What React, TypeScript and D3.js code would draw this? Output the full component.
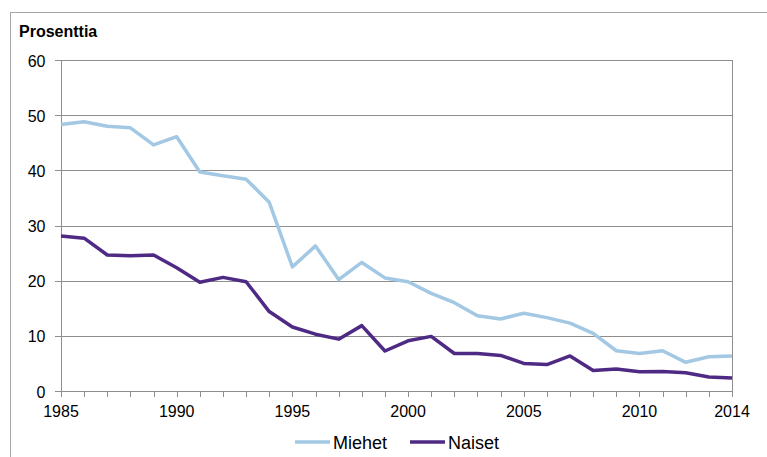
import { line, range, scaleLinear } from "d3";

const years = range(1985, 2015);

const miehet = [
  48.3, 48.8, 48.0, 47.7, 44.6, 46.1, 39.7, 39.0, 38.4, 34.2,
  22.5, 26.3, 20.2, 23.3, 20.5, 19.8, 17.7, 16.0, 13.65, 13.05,
  14.1, 13.3, 12.3, 10.45, 7.3, 6.8, 7.3, 5.2, 6.2, 6.35,
];

const naiset = [
  28.1, 27.7, 24.65, 24.5, 24.65, 22.35, 19.7, 20.6, 19.8, 14.4,
  11.6, 10.3, 9.4, 11.85, 7.25, 9.1, 9.9, 6.8, 6.8, 6.45,
  5.0, 4.8, 6.35, 3.7, 4.0, 3.5, 3.55, 3.3, 2.55, 2.35,
];

const yTicks = [0, 10, 20, 30, 40, 50, 60];
const xLabels = [1985, 1990, 1995, 2000, 2005, 2010, 2014];

const series = [
  { name: "Miehet", values: miehet, color: "#a3c8e3" },
  { name: "Naiset", values: naiset, color: "#4e2a84" },
];

export default function App() {
  const width = 767;
  const height = 457;
  const plot = { left: 61, right: 732, top: 60, bottom: 391 };
  const font = "'Liberation Sans', Arial, sans-serif";
  const gridColor = "#8e8e8e";

  const x = scaleLinear().domain([1985, 2014]).range([plot.left, plot.right]);
  const y = scaleLinear().domain([0, 60]).range([plot.bottom, plot.top]);

  const path = line<number>()
    .x((_, i) => x(years[i]))
    .y((d) => y(d));

  const legend = [
    { ...series[0], x: 295 },
    { ...series[1], x: 410 },
  ];

  return (
    <svg
      width={width}
      height={height}
      style={{ position: "absolute", left: 0, top: 0, background: "#fff" }}
      fontFamily={font}
    >
      <rect x={10.5} y={12.5} width={780} height={460} fill="none" stroke="#a6a6a6" />
      <text x={19} y={36.5} fontSize={16} fontWeight="bold" fill="#000">
        Prosenttia
      </text>

      {yTicks.map((t) => (
        <g key={`y-${t}`}>
          <line
            x1={plot.left - 6}
            x2={plot.right}
            y1={Math.round(y(t)) + 0.5}
            y2={Math.round(y(t)) + 0.5}
            stroke={gridColor}
          />
          <text
            x={45.5}
            y={y(t) + 1}
            dy="0.35em"
            textAnchor="end"
            fontSize={16}
            fill="#000"
          >
            {t}
          </text>
        </g>
      ))}

      <line
        x1={plot.left + 0.5}
        x2={plot.left + 0.5}
        y1={plot.top}
        y2={plot.bottom + 6}
        stroke={gridColor}
      />
      <line
        x1={plot.right + 0.5}
        x2={plot.right + 0.5}
        y1={plot.top}
        y2={plot.bottom + 6}
        stroke={gridColor}
      />

      {years.map((yr) => (
        <line
          key={`xt-${yr}`}
          x1={Math.round(x(yr)) + 0.5}
          x2={Math.round(x(yr)) + 0.5}
          y1={plot.bottom}
          y2={plot.bottom + 6}
          stroke={gridColor}
        />
      ))}

      {xLabels.map((yr) => (
        <text
          key={`xl-${yr}`}
          x={x(yr)}
          y={417}
          textAnchor="middle"
          fontSize={16}
          fill="#000"
        >
          {yr}
        </text>
      ))}

      {series.map((s) => (
        <path
          key={s.name}
          d={path(s.values) ?? ""}
          fill="none"
          stroke={s.color}
          strokeWidth={3.5}
          strokeLinejoin="round"
        />
      ))}

      {legend.map((l) => (
        <g key={`lg-${l.name}`}>
          <line x1={l.x} x2={l.x + 35} y1={442} y2={442} stroke={l.color} strokeWidth={3.5} />
          <text x={l.x + 38} y={449} fontSize={18} fill="#000">
            {l.name}
          </text>
        </g>
      ))}
    </svg>
  );
}
